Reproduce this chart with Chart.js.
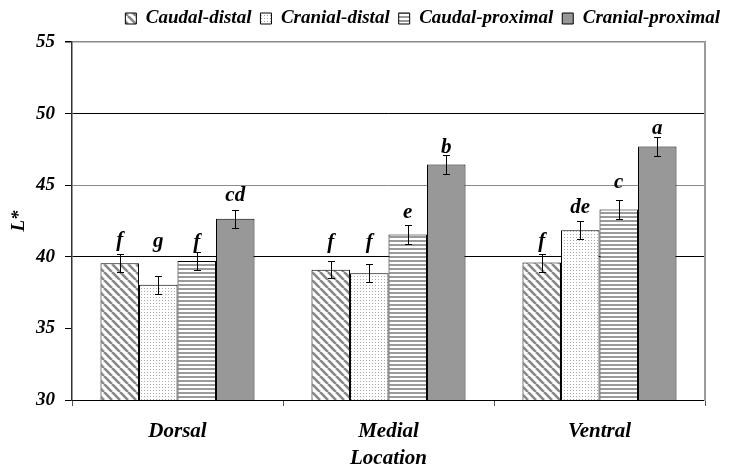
<!DOCTYPE html>
<html lang="en">
<head>
    <meta charset="UTF-8">
    <title>L* by Location</title>
    <script src="https://cdn.jsdelivr.net/npm/chart.js"></script>
    <style>
        html, body { margin: 0; padding: 0; background: #fff; }
        #wrap { width: 729px; height: 471px; }
    </style>
</head>
<body>
    <div id="wrap"><canvas id="lChart"></canvas></div>

    <script>
        // values
        const locations = ['Dorsal', 'Medial', 'Ventral'];
        const seriesNames = ['Caudal-distal', 'Cranial-distal', 'Caudal-proximal', 'Cranial-proximal'];
        const caudalDistal = [39.55, 39.1, 39.6];
        const cranialDistal = [38.05, 38.85, 41.85];
        const caudalProximal = [39.7, 41.55, 43.3];
        const cranialProximal = [42.65, 46.45, 47.7];
        const errCaudalDistal = [0.63, 0.6, 0.63];
        const errCranialDistal = [0.63, 0.63, 0.63];
        const errCaudalProximal = [0.63, 0.65, 0.65];
        const errCranialProximal = [0.65, 0.65, 0.65];
        const lettersCaudalDistal = ['f', 'f', 'f'];
        const lettersCranialDistal = ['g', 'f', 'de'];
        const lettersCaudalProximal = ['f', 'e', 'c'];
        const lettersCranialProximal = ['cd', 'b', 'a'];
        const yTicks = [30, 35, 40, 45, 50, 55];

        const serif = '"Liberation Serif", "Times New Roman", serif';

        // fill patterns like the old excel hatches
        function makePattern(kind) {
            let c = document.createElement('canvas');
            let g = c.getContext('2d');
            if (kind == 'diag') {
                c.width = 8; c.height = 8;
                g.fillStyle = '#fff'; g.fillRect(0, 0, 8, 8);
                g.strokeStyle = '#888'; g.lineWidth = 2.6;
                for (let k = -8; k <= 8; k += 8) {
                    g.beginPath(); g.moveTo(k, 0); g.lineTo(k + 8, 8); g.stroke();
                }
            } else if (kind == 'dots') {
                c.width = 3; c.height = 3;
                g.fillStyle = '#fff'; g.fillRect(0, 0, 3, 3);
                g.fillStyle = '#ababab'; g.fillRect(0, 0, 1, 1);
            } else if (kind == 'hstripe') {
                c.width = 4; c.height = 4;
                g.fillStyle = '#fff'; g.fillRect(0, 0, 4, 4);
                g.fillStyle = '#9a9a9a'; g.fillRect(0, 0, 4, 2);
            }
            return g.createPattern(c, 'repeat');
        }

        const fills = [makePattern('diag'), makePattern('dots'), makePattern('hstripe'), '#989898'];
        const valueSets = [caudalDistal, cranialDistal, caudalProximal, cranialProximal];
        const errSets = [errCaudalDistal, errCranialDistal, errCaudalProximal, errCranialProximal];
        const letterSets = [lettersCaudalDistal, lettersCranialDistal, lettersCaudalProximal, lettersCranialProximal];
        // gap in px between the error cap and the letter, per series / location
        const letterGap = [[9, 14, 8], [30, 17, 9], [5, 8, 13], [10, 3, 4]];

        const errorBarsPlugin = {
            id: 'errorBars',
            afterDatasetsDraw(chart) {
                let ctx = chart.ctx;
                let yScale = chart.scales.y;
                ctx.save();
                ctx.strokeStyle = '#000';
                ctx.lineWidth = 1;
                ctx.fillStyle = '#000';
                ctx.font = 'italic bold 21px ' + serif;
                ctx.textAlign = 'center';
                ctx.textBaseline = 'alphabetic';
                chart.data.datasets.forEach((ds, i) => {
                    let meta = chart.getDatasetMeta(i);
                    meta.data.forEach((bar, j) => {
                        let v = ds.data[j];
                        let e = errSets[i][j];
                        let top = Math.round(yScale.getPixelForValue(v + e)) + 0.5;
                        let bot = Math.round(yScale.getPixelForValue(v - e)) + 0.5;
                        let x = Math.round(bar.x) + 0.5;
                        ctx.beginPath();
                        ctx.moveTo(x, top); ctx.lineTo(x, bot);
                        ctx.moveTo(x - 3.5, top); ctx.lineTo(x + 3.5, top);
                        ctx.moveTo(x - 3.5, bot); ctx.lineTo(x + 3.5, bot);
                        ctx.stroke();
                        ctx.fillText(letterSets[i][j], bar.x, top - letterGap[i][j]);
                    });
                });
                ctx.restore();
            }
        };

        // a bit more room under the legend
        const legendGap = {
            id: 'legendGap',
            beforeInit(chart) {
                let origFit = chart.legend.fit;
                chart.legend.fit = function () {
                    origFit.bind(chart.legend)();
                    this.height += 4;
                };
            }
        };

        let lChart = new Chart(document.getElementById('lChart'), {
            type: 'bar',
            data: {
                labels: locations,
                datasets: seriesNames.map((name, i) => ({
                    label: name,
                    data: valueSets[i],
                    backgroundColor: fills[i],
                    borderColor: '#000',
                    borderWidth: 1,
                    categoryPercentage: 0.73,
                    barPercentage: 1.0
                }))
            },
            options: {
                responsive: true,
                maintainAspectRatio: false,
                animation: false,
                devicePixelRatio: 1,
                layout: { padding: { left: 8, right: 0, top: 0, bottom: 0 } },
                plugins: {
                    legend: {
                        position: 'top',
                        align: 'end',
                        labels: {
                            color: '#000',
                            font: { family: serif, size: 19, weight: 'bold', style: 'italic' },
                            boxWidth: 11,
                            boxHeight: 11,
                            padding: 9
                        }
                    },
                    tooltip: { enabled: false }
                },
                scales: {
                    x: {
                        afterFit: s => { s.height = 71; },
                        grid: { display: true, color: 'rgba(0,0,0,0)', tickColor: '#555', tickLength: 6, offset: true },
                        border: { display: true, color: '#000', width: 1 },
                        ticks: {
                            color: '#000',
                            padding: 13,
                            font: { family: serif, size: 21, weight: 'bold', style: 'italic' }
                        },
                        title: {
                            display: true,
                            text: 'Location',
                            color: '#000',
                            padding: { top: 0, bottom: 0 },
                            font: { family: serif, size: 21, weight: 'bold', style: 'italic' }
                        }
                    },
                    y: {
                        min: 30,
                        max: 55,
                        afterBuildTicks: s => { s.ticks = yTicks.map(v => ({ value: v })); },
                        afterFit: s => { s.width = 64; },
                        grid: {
                            color: c => {
                                let v = c.tick ? c.tick.value : 0;
                                if (v == 50 || v == 40) return '#000';
                                if (v == 45 || v == 55) return '#8a8a8a';
                                return 'rgba(0,0,0,0)';
                            },
                            lineWidth: c => (c.tick && c.tick.value == 55) ? 1.5 : 1,
                            tickColor: '#000',
                            tickLength: 7
                        },
                        border: { display: true, color: '#333', width: 1.5 },
                        ticks: {
                            color: '#000',
                            padding: 10,
                            font: { family: serif, size: 19, weight: 'bold', style: 'italic' }
                        },
                        title: {
                            display: true,
                            text: 'L*',
                            color: '#000',
                            padding: { top: 0, bottom: 0 },
                            font: { family: serif, size: 19, weight: 'bold', style: 'italic' }
                        }
                    },
                    yR: {
                        type: 'linear',
                        position: 'right',
                        display: true,
                        afterFit: s => { s.width = 24; },
                        grid: { display: false, drawTicks: false },
                        ticks: { display: false },
                        border: { display: true, color: '#9a9a9a', width: 2 }
                    }
                }
            },
            plugins: [errorBarsPlugin, legendGap]
        });
    </script>
</body>
</html>
